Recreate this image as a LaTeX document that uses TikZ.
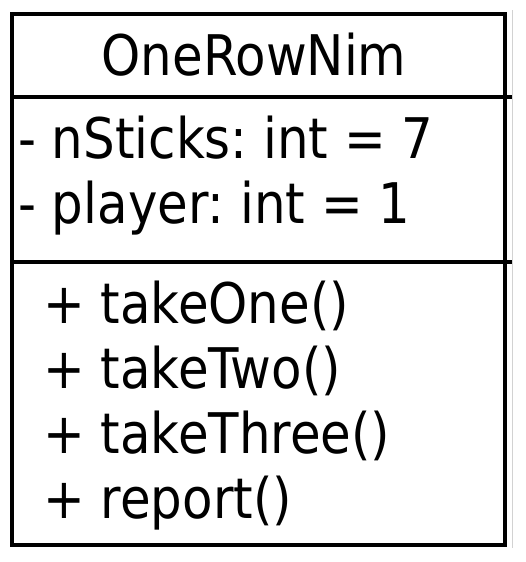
\documentclass[tikz,border=0pt]{standalone}
\usepackage{fontspec}
\usepackage{graphicx}
\setmainfont{DejaVu Sans}
\frenchspacing
% member text, set slightly narrow
\newcommand\umltext[1]{\scalebox{0.89}[1]{#1}}
\begin{document}
\begin{tikzpicture}[x=1pt,y=-1pt,
  frame/.style={line width=4.5pt,draw=black},
  uml/.style={inner sep=0pt,anchor=base west,font=\fontsize{56}{60}\selectfont}]
  \useasboundingbox (0,0) rectangle (526,562);
  % faint edge to the right of the class box
  \draw[gray!35,line width=1pt] (512,10) -- (512,548);
  % class box and compartment separators
  \draw[frame] (12,14) rectangle (505,545);
  \coordinate (s1l) at (12,97);  \coordinate (s1r) at (512,97);
  \coordinate (s2l) at (12,262); \coordinate (s2r) at (512,262);
  \draw[frame] (s1l) -- (s1r);
  \draw[frame] (s2l) -- (s2r);
  % class name
  \node[uml,anchor=base] (name) at (254,75) {\umltext{OneRowNim}};
  % attributes
  \node[uml] (a1) at (18,158) {\umltext{- nSticks: int = 7}};
  \node[uml] (a2) at (18,223) {\umltext{- player: int = 1}};
  % operations
  \node[uml] (m1) at (43,323) {\umltext{+ takeOne()}};
  \node[uml] (m2) at (43,388) {\umltext{+ takeTwo()}};
  \node[uml] (m3) at (43,453) {\umltext{+ takeThree()}};
  \node[uml] (m4) at (43,518) {\umltext{+ report()}};
\end{tikzpicture}
\end{document}
